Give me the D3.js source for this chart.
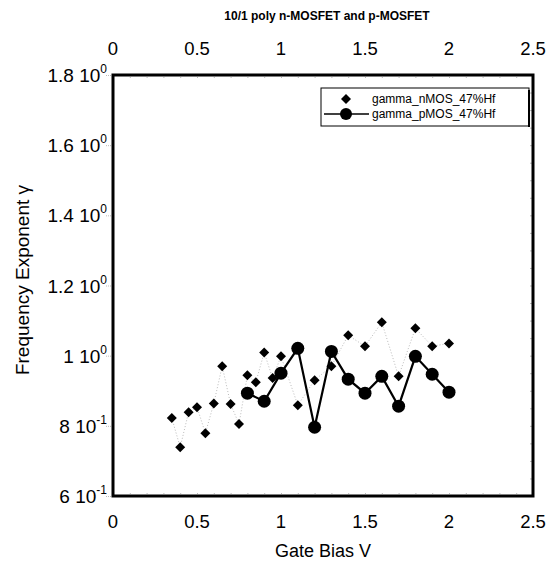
<!DOCTYPE html>
<html>
<head>
<meta charset="utf-8">
<script src="https://cdn.jsdelivr.net/npm/d3@7"></script>
<style>
  body { margin: 0; background: #fff; }
  text { font-family: "Liberation Sans", Arial, sans-serif; fill: #000; }
</style>
</head>
<body>
<svg id="chart" width="551" height="563"></svg>
<script>
// data
const nX = [0.35, 0.4, 0.45, 0.5, 0.55, 0.6, 0.65, 0.7, 0.75, 0.8, 0.85, 0.9, 0.95, 1.0,
            1.1, 1.2, 1.3, 1.4, 1.5, 1.6, 1.7, 1.8, 1.9, 2.0];
const nY = [0.822, 0.739, 0.839, 0.853, 0.779, 0.864, 0.970, 0.862, 0.805, 0.944, 0.924, 1.009, 0.936, 0.998,
            0.859, 0.930, 0.970, 1.058, 1.027, 1.095, 0.941, 1.078, 1.027, 1.035];
const pX = [0.8, 0.9, 1.0, 1.1, 1.2, 1.3, 1.4, 1.5, 1.6, 1.7, 1.8, 1.9, 2.0];
const pY = [0.893, 0.870, 0.950, 1.021, 0.796, 1.012, 0.933, 0.893, 0.941, 0.856, 0.998, 0.947, 0.896];

const xTicks = [0, 0.5, 1, 1.5, 2, 2.5];
const yTicks = [0.6, 0.8, 1.0, 1.2, 1.4, 1.6, 1.8];
const yMant  = ["6", "8", "1", "1.2", "1.4", "1.6", "1.8"];
const yExp   = ["-1", "-1", "0", "0", "0", "0", "0"];
const legendNames = ["gamma_nMOS_47%Hf", "gamma_pMOS_47%Hf"];

const svg = d3.select("#chart");
const mLeft = 113, mRight = 533, mTop = 75, mBottom = 496;

const x = d3.scaleLinear().domain([0, 2.5]).range([mLeft, mRight]);
const y = d3.scaleLinear().domain([0.6, 1.8]).range([mBottom, mTop]);

// faint ticks
const minorX = d3.range(0, 2.51, 0.1);
svg.append("g").attr("transform", `translate(0,${mBottom})`)
  .call(d3.axisTop(x).tickValues(minorX).tickSize(4).tickFormat(""))
  .call(g => g.select(".domain").remove())
  .call(g => g.selectAll("line").attr("stroke", "#bbb").attr("stroke-dasharray", "1,1"));
svg.append("g").attr("transform", `translate(0,${mTop})`)
  .call(d3.axisBottom(x).tickValues(minorX).tickSize(4).tickFormat(""))
  .call(g => g.select(".domain").remove())
  .call(g => g.selectAll("line").attr("stroke", "#bbb").attr("stroke-dasharray", "1,1"));
svg.append("g").attr("transform", `translate(${mLeft},0)`)
  .call(d3.axisLeft(y).tickValues(yTicks).tickSize(8).tickFormat(""))
  .call(g => g.select(".domain").remove())
  .call(g => g.selectAll("line").attr("stroke", "#bbb").attr("stroke-dasharray", "1,1"));
svg.append("g").attr("transform", `translate(${mRight},0)`)
  .call(d3.axisLeft(y).tickValues(d3.range(0.6, 1.81, 0.05)).tickSize(3).tickFormat(""))
  .call(g => g.select(".domain").remove())
  .call(g => g.selectAll("line").attr("stroke", "#bbb"));

// nMOS dotted line + diamonds, pMOS solid line + circles
const nData = nX.map((v, i) => [v, nY[i]]);
const pData = pX.map((v, i) => [v, pY[i]]);
const line = d3.line().x(d => x(d[0])).y(d => y(d[1]));

svg.append("path").attr("d", line(nData))
  .attr("fill", "none").attr("stroke", "#bbb").attr("stroke-width", 1)
  .attr("stroke-dasharray", "1,2");
svg.append("path").attr("d", line(pData))
  .attr("fill", "none").attr("stroke", "#000").attr("stroke-width", 2.2);

const diamond = d3.symbol().type(d3.symbolSquare).size(50);
svg.selectAll(".dia").data(nData).enter().append("path")
  .attr("d", diamond)
  .attr("transform", d => `translate(${x(d[0])},${y(d[1])}) rotate(45)`)
  .attr("fill", "#000");
svg.selectAll(".cir").data(pData).enter().append("circle")
  .attr("cx", d => x(d[0])).attr("cy", d => y(d[1])).attr("r", 6.5)
  .attr("fill", "#000");

// frame
svg.append("rect").attr("x", mLeft).attr("y", mTop)
  .attr("width", mRight - mLeft).attr("height", mBottom - mTop)
  .attr("fill", "none").attr("stroke", "#000").attr("stroke-width", 3);

// tick labels
xTicks.forEach(t => {
  svg.append("text").attr("x", x(t)).attr("y", 528).attr("text-anchor", "middle")
    .attr("font-size", 18.5).text(t);
  svg.append("text").attr("x", x(t)).attr("y", 55).attr("text-anchor", "middle")
    .attr("font-size", 18.5).text(t);
});
yTicks.forEach((t, i) => {
  const tx = svg.append("text").attr("x", 107).attr("y", y(t) + 7)
    .attr("text-anchor", "end").attr("font-size", 19);
  tx.append("tspan").text(yMant[i] + " 10");
  tx.append("tspan").attr("dy", -9).attr("font-size", 12).text(yExp[i]);
});

// titles
svg.append("text").attr("x", 327).attr("y", 20).attr("text-anchor", "middle")
  .attr("font-size", 12).attr("font-weight", "bold").text("10/1 poly n-MOSFET and p-MOSFET");
svg.append("text").attr("x", 323).attr("y", 557).attr("text-anchor", "middle")
  .attr("font-size", 18).text("Gate Bias V");
svg.append("text").attr("transform", "translate(29,280) rotate(-90)")
  .attr("text-anchor", "middle").attr("font-size", 19).text("Frequency Exponent γ");

// legend
const lg = svg.append("g");
lg.append("rect").attr("x", 321).attr("y", 88).attr("width", 208).attr("height", 38)
  .attr("fill", "#fff").attr("stroke", "#000").attr("stroke-width", 1);
lg.append("line").attr("x1", 529).attr("y1", 90).attr("x2", 529).attr("y2", 127)
  .attr("stroke", "#000").attr("stroke-width", 2);
lg.append("path").attr("d", diamond)
  .attr("transform", "translate(346,99) rotate(45)").attr("fill", "#000");
lg.append("line").attr("x1", 324).attr("x2", 369).attr("y1", 114).attr("y2", 114)
  .attr("stroke", "#000").attr("stroke-width", 1.5);
lg.append("circle").attr("cx", 346).attr("cy", 114).attr("r", 6).attr("fill", "#000");
legendNames.forEach((n, i) => {
  lg.append("text").attr("x", 372).attr("y", 103 + i * 15).attr("font-size", 12).text(n);
});
</script>
</body>
</html>
